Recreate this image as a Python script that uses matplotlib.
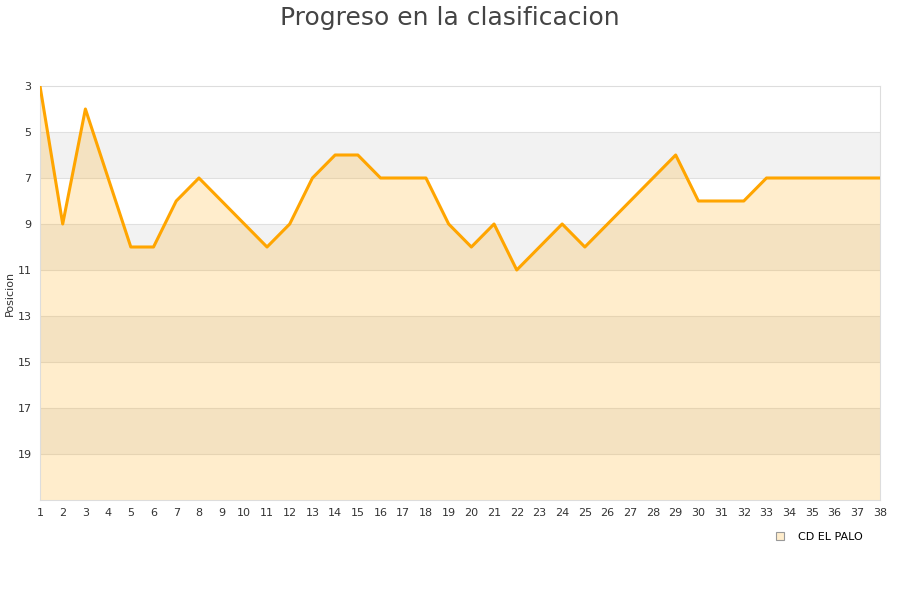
import matplotlib.pyplot as plt
from matplotlib.lines import Line2D

jornadas = list(range(1, 39))
posiciones = [3, 9, 4, 7, 10, 10, 8, 7, 8, 9, 10, 9, 7, 6, 6, 7, 7, 7, 9, 10,
              9, 11, 10, 9, 10, 9, 8, 7, 6, 8, 8, 8, 7, 7, 7, 7, 7, 7]
equipo = 'CD EL PALO'
yticks = [3, 5, 7, 9, 11, 13, 15, 17, 19]

fig = plt.figure(figsize=(9, 6), dpi=100)
ax = fig.add_axes([40 / 900, 100 / 600, 840 / 900, 414 / 600])

# bandas alternas de fondo
for y0 in [5, 9, 13, 17]:
    ax.axhspan(y0, y0 + 2, color='#f2f2f2', lw=0, zorder=0)
for y in yticks[1:]:
    ax.axhline(y, color='#e0e0e0', lw=0.8, zorder=1)

ax.fill_between(jornadas, posiciones, 21, color='#FFA500', alpha=0.2, lw=0, zorder=2)
ax.plot(jornadas, posiciones, color='#FFA500', lw=2.2, zorder=3)

ax.set_xlim(1, 38)
ax.set_ylim(21, 3)
ax.set_xticks(jornadas)
ax.set_yticks(yticks)
ax.tick_params(length=0, labelsize=8, colors='#333333', pad=6)
for s in ax.spines.values():
    s.set_color('#dddddd')
ax.set_ylabel('Posicion', fontsize=8, color='#333333', labelpad=2)

fig.suptitle('Progreso en la clasificacion', fontsize=18, color='#444444', y=0.99)

h = Line2D([], [], marker='s', ls='', markersize=6, markerfacecolor='#FFEDCC',
           markeredgecolor='#999999', markeredgewidth=0.8)
fig.legend([h], [equipo], loc='center', bbox_to_anchor=(816 / 900, 1 - 537 / 600),
           frameon=False, fontsize=8, handletextpad=0.6)

fig.savefig('out.png', dpi=100)
